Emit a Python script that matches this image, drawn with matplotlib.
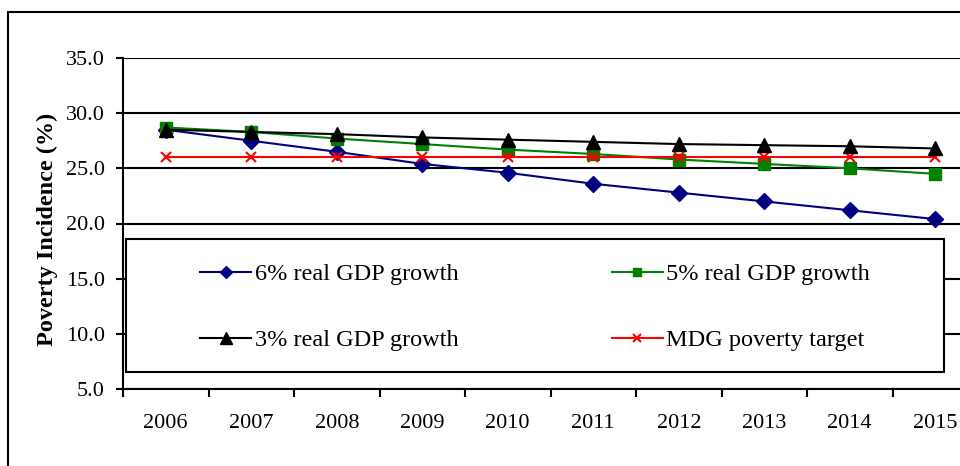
# Incidência da pobreza projetada sob diferentes cenários de crescimento do PIB

import matplotlib.pyplot as plt
import matplotlib.patches as patches

# Dados do gráfico
anos = ["2006", "2007", "2008", "2009", "2010", "2011", "2012", "2013", "2014", "2015"]
pib_6 = [28.5, 27.5, 26.5, 25.4, 24.6, 23.6, 22.8, 22.0, 21.2, 20.4]
pib_5 = [28.7, 28.3, 27.7, 27.2, 26.7, 26.3, 25.8, 25.4, 25.0, 24.5]
pib_3 = [28.5, 28.3, 28.1, 27.8, 27.6, 27.4, 27.2, 27.1, 27.0, 26.8]
meta_odm = [26.0, 26.0, 26.0, 26.0, 26.0, 26.0, 26.0, 26.0, 26.0, 26.0]

plt.rcParams["font.family"] = ["Liberation Serif", "DejaVu Serif"]

fig = plt.figure(figsize=(9.6, 4.66), dpi=100)
ax = fig.add_axes([123 / 960, 77 / 466, 855 / 960, 331 / 466])

x = list(range(len(anos)))

l6, = ax.plot(x, pib_6, color="#000080", lw=1.5, marker="D", ms=8, label="6% real GDP growth", zorder=3)
l5, = ax.plot(x, pib_5, color="#008000", lw=1.5, marker="s", ms=8, label="5% real GDP growth", zorder=3)
l3, = ax.plot(x, pib_3, color="black", lw=1.5, marker="^", ms=10, label="3% real GDP growth", zorder=4)
lm, = ax.plot(x, meta_odm, color="#FF0000", lw=1.5, marker="x", ms=7, mew=1.5, label="MDG poverty target", zorder=3)

# Eixos
ax.set_xlim(-0.5, len(anos) - 0.5)
ax.set_ylim(5, 35)
ax.set_yticks([5, 10, 15, 20, 25, 30, 35])
ax.set_yticklabels([f"{v:.1f}" for v in [5, 10, 15, 20, 25, 30, 35]], fontsize=16)
ax.set_xticks(x)
ax.set_xticklabels(anos, fontsize=16)
ax.set_xticks([i - 0.5 for i in range(len(anos) + 1)], minor=True)
ax.tick_params(axis="x", which="major", length=0, pad=18)
ax.tick_params(axis="x", which="minor", length=6, width=1.5, direction="out")
ax.tick_params(axis="y", length=5, width=1.5, pad=8)

ax.yaxis.grid(True, color="black", lw=1.5)
ax.set_axisbelow(True)
ax.spines["top"].set_visible(False)
ax.spines["right"].set_visible(False)
ax.spines["left"].set_linewidth(1.5)
ax.spines["bottom"].set_linewidth(1.5)

# Caixa da legenda
caixa = patches.Rectangle((3 / 855, 17 / 331), 818 / 855, 133 / 331, transform=ax.transAxes,
                          facecolor="white", edgecolor="black", lw=1.5, zorder=5)
ax.add_patch(caixa)

# Ordem da legenda: 6% e 5% na primeira linha, 3% e meta na segunda
leg = ax.legend([l6, l3, l5, lm], [l6.get_label(), l3.get_label(), l5.get_label(), lm.get_label()],
                loc="upper left", bbox_to_anchor=(65 / 855, 138 / 331), ncol=2, frameon=False,
                fontsize=17.5, borderpad=0, handlelength=2.1, handletextpad=0.15,
                columnspacing=6.3, labelspacing=1.82, markerscale=0.8)
leg.set_zorder(6)

fig.text(47 / 960, 1 - 229 / 466, "Poverty Incidence (%)", rotation=90, fontsize=17.5,
         fontweight="bold", ha="center", va="center")

# Moldura externa
moldura = patches.Rectangle((8 / 960, -0.1), 1.1, 1.1 - 12 / 466, transform=fig.transFigure,
                            fill=False, edgecolor="black", lw=1.5, clip_on=False)
fig.patches.append(moldura)

plt.savefig("out.png", dpi=100)
